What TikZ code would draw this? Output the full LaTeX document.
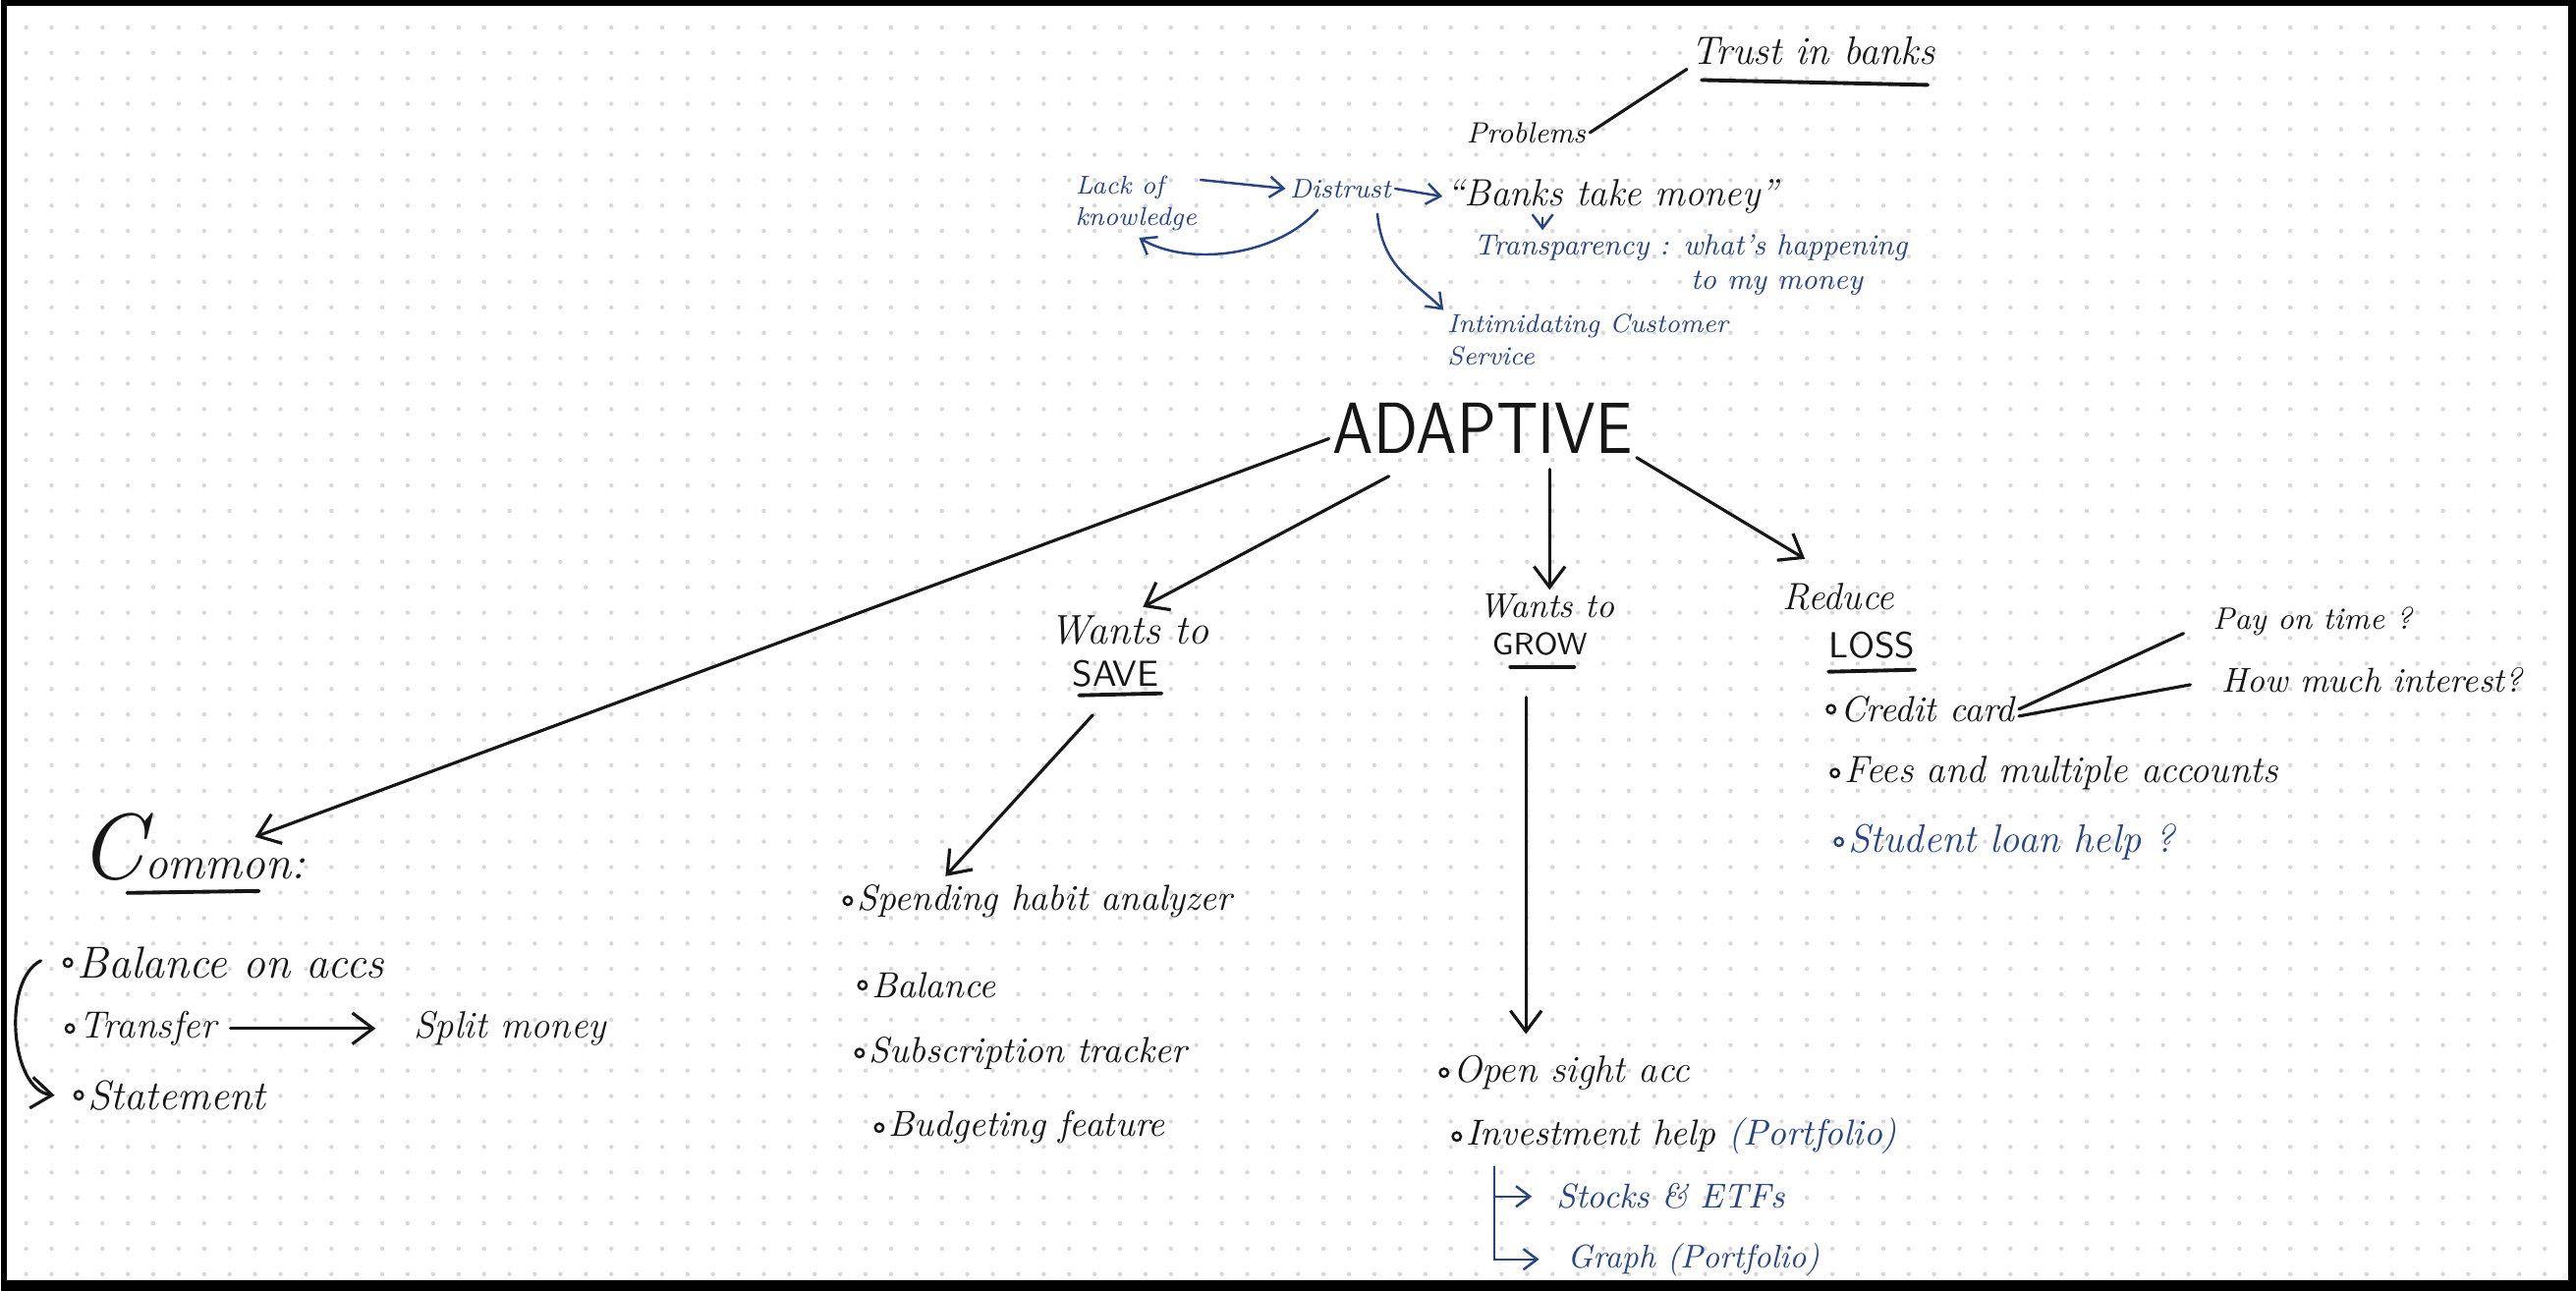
\documentclass[tikz,border=0pt]{standalone}
\usepackage{xcolor}
\usepackage{tikz}
\usetikzlibrary{arrows.meta, positioning, calc}
\definecolor{inkblack}{RGB}{22, 22, 22}
\definecolor{inkblue}{RGB}{38, 68, 135}
\definecolor{dotgray}{RGB}{216, 216, 216}
\newcommand{\handsz}[1]{\fontsize{#1}{#1}\selectfont\itshape}
\newcommand{\capsz}[1]{\fontsize{#1}{#1}\selectfont\sffamily}

\begin{document}
\begin{tikzpicture}[x=0.1mm, y=-0.1mm, >={Straight Barb[length=6pt,width=9pt]}]
    % Styles
    \tikzstyle{handtext} = [inner sep=1pt, text=inkblack, font=\handsz{10.5}]
    \tikzstyle{note} = [handtext, text=inkblue, font=\handsz{8}]
    \tikzstyle{capword} = [inner sep=1pt, text=inkblack, font=\capsz{10.5}]
    \tikzstyle{dotmark} = [draw=inkblack, circle, inner sep=0pt, minimum size=2.4pt, line width=0.7pt]
    \tikzstyle{entry} = [handtext, anchor=west, label distance=6pt, label={[dotmark]left:{}}]
    \tikzstyle{blueentry} = [handtext, text=inkblue, anchor=west, label distance=6pt, label={[dotmark, draw=inkblue]left:{}}]
    \tikzstyle{link} = [draw=inkblack, line width=0.9pt, line cap=round]
    \tikzstyle{bluelink} = [draw=inkblue, line width=0.7pt, line cap=round, >={Straight Barb[length=4pt,width=6pt]}]
    \tikzstyle{uline} = [draw=inkblack, line width=1.1pt, line cap=round]

    % Paper
    \fill[black] (0,0) rectangle (2622,1314);
    \fill[white] (6,6) rectangle (2614,1303);
    \foreach \j in {0,...,49}
        \fill[dotgray] foreach \i in {0,...,99} { (26+\i*25.9, 28+\j*25.9) circle (0.22mm) };

    % Nodes: problems
    \node (trust) [handtext, font=\handsz{11.5}] at (1845,52) {Trust in banks};
    \node (problems) [handtext, font=\handsz{8.5}] at (1553,135) {Problems};
    \node (lack) [note, font=\fontsize{7.5}{9}\selectfont\itshape, align=left] at (1156,207) {Lack of\\knowledge};
    \node (distrust) [note, font=\handsz{7.8}] at (1364,192) {Distrust};
    \node (banks) [handtext, font=\handsz{11}] at (1641,200) {“Banks take money”};
    \node (transp) [note, font=\handsz{8.5}, anchor=west] at (1496,252) {Transparency : what’s happening};
    \node (mymoney) [note, font=\handsz{8.5}, anchor=east] at (1900,288) {to my money};
    \node (intim) [note, font=\handsz{7.6}, anchor=west] at (1469,332) {Intimidating Customer};
    \node (service) [note, font=\handsz{7.6}, anchor=north west] at (intim.south west) {Service};

    % Nodes: main branches
    \node (adaptive) [capword, font=\capsz{21}] at (1509,436) {\scalebox{0.9}[1]{ADAPTIVE}};
    \node (wsave) [handtext, font=\handsz{12}] at (1149,642) {Wants to};
    \node (save) [capword] at (1135,686) {SAVE};
    \node (wgrow) [handtext, font=\handsz{10}] at (1574,617) {Wants to};
    \node (grow) [capword, font=\capsz{9}] at (1567,656) {GROW};
    \node (reduce) [handtext, font=\handsz{11}] at (1871,608) {Reduce};
    \node (loss) [capword] at (1905,657) {LOSS};
    \node (common) [handtext, font=\handsz{13.5}, anchor=base west] at (76,895) {{\fontsize{27}{27}\selectfont C}ommon:};

    % Nodes: lists
    \node (bal) [entry, font=\handsz{13}] at (74,980) {Balance on accs};
    \node (transfer) [entry, font=\handsz{11}] at (76,1047) {Transfer};
    \node (split) [handtext, font=\handsz{11}, anchor=west] at (417,1047) {Split money};
    \node (statement) [entry, font=\handsz{12}] at (85,1115) {Statement};

    \node (spend) [entry] at (868,917) {Spending habit analyzer};
    \node (sbal) [entry] at (883,1003) {Balance};
    \node (subs) [entry] at (880,1072) {Subscription tracker};
    \node (budget) [entry] at (900,1148) {Budgeting feature};

    \node (credit) [entry] at (1869,722) {Credit card};
    \node (fees) [entry, font=\handsz{11}] at (1873,787) {Fees and multiple accounts};
    \node (student) [blueentry, font=\handsz{11.5}] at (1877,857) {Student loan help ?};
    \node (pay) [handtext, font=\handsz{9}, anchor=west] at (2248,633) {Pay on time ?};
    \node (howmuch) [handtext, font=\handsz{10}, anchor=west] at (2257,692) {How much interest?};

    \node (openacc) [entry, font=\handsz{11}] at (1475,1092) {Open sight acc};
    \node (invest) [entry] at (1488,1157) {Investment help \textcolor{inkblue}{(Portfolio)}};
    \node (stocks) [note, font=\handsz{10}, anchor=west] at (1580,1218) {Stocks \& ETFs};
    \node (graph) [note, font=\handsz{9.5}, anchor=west] at (1591,1282) {Graph (Portfolio)};

    % Underlines
    \draw[uline] ($(trust.south)+(-113,11)$) -- ($(trust.south)+(117,16)$);
    \draw[uline] ($(save.south)+(-37,4)$) -- ($(save.south)+(47,2)$);
    \draw[uline] ($(grow.south)+(-30,7)$) -- ($(grow.south)+(35,7)$);
    \draw[uline] ($(loss.south)+(-44,9)$) -- ($(loss.south)+(44,7)$);
    \draw[uline] ($(common.base west)+(53,14)$) -- ($(common.base west)+(187,12)$);

    % Connections
    \draw[link] (problems.east) -- (trust.south west);
    \draw[link, ->] ([yshift=-3pt]adaptive.west) -- ($(common.base west)+(183,-43)$);
    \draw[link, ->] ($(adaptive.south west)+(61,19)$) -- ($(wsave.north)+(14,-5)$);
    \coordinate (g0) at ($(adaptive.south)+(68,12)$);
    \draw[link, ->] (g0) -- (g0 |- wgrow.north);
    \draw[link, ->] (adaptive.south east) -- ($(reduce.north west)+(27,-21)$);
    \draw[link, ->] ($(save.south)+(-23,24)$) -- ($(spend.north west)+(94,-4)$);
    \coordinate (g1) at ($(grow.south)+(-14,38)$);
    \draw[link, ->, shorten >=5pt] (g1) -- (g1 |- openacc.north);
    \draw[link, shorten >=8pt] (credit.east) -- (pay.west);
    \draw[link, shorten >=8pt] ([yshift=-2pt]credit.east) -- (howmuch.west);
    \draw[link, ->, shorten <=3pt, shorten >=10pt] (transfer.east) -- (split.west);
    \draw[link, ->] ($(bal.west)+(-33,-2)$) .. controls +(-40,20) and +(-45,-5) .. ($(statement.west)+(-30,0)$);

    \draw[bluelink, ->] (lack.20) -- (distrust.west);
    \draw[bluelink, ->] ($(distrust.south)+(-23,8)$) .. controls +(-41,47) and +(50,30) .. ($(lack.south)+(3,3)$);
    \draw[bluelink, ->] (distrust.east) -- (banks.west);
    \coordinate (t0) at ($(banks.south west)+(102,0)$);
    \draw[bluelink, ->] (t0) -- (t0 |- transp.north);
    \draw[bluelink, ->] ($(distrust.south east)+(-18,12)$) .. controls +(5,55) and +(-30,-30) .. (intim.north west);
    \coordinate (k0) at ($(invest.south west)+(33,8)$);
    \draw[bluelink, ->, shorten >=7pt] (k0) |- (graph.west);
    \draw[bluelink, ->, shorten >=6pt] (k0 |- stocks.west) -- (stocks.west);
\end{tikzpicture}
\end{document}
